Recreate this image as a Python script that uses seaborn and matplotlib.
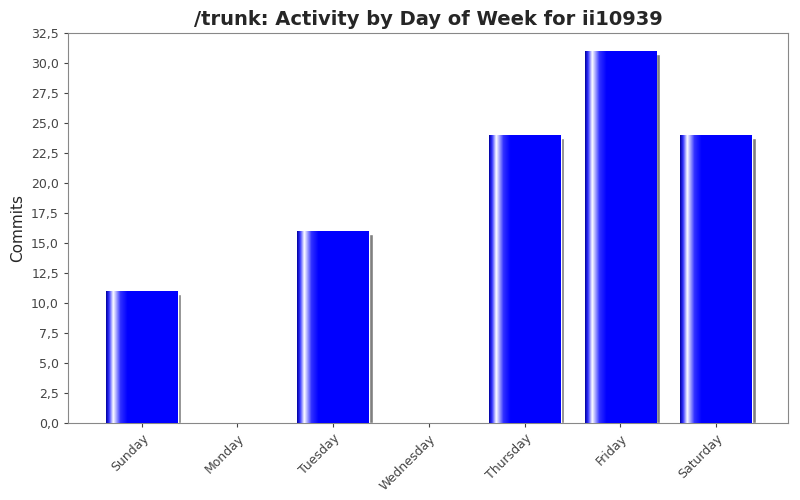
import numpy as np
import pandas as pd
import matplotlib
matplotlib.use("Agg")
import matplotlib.pyplot as plt
import seaborn as sns
from matplotlib.colors import LinearSegmentedColormap
from matplotlib.ticker import FuncFormatter, MultipleLocator

days = ["Sunday", "Monday", "Tuesday", "Wednesday", "Thursday", "Friday", "Saturday"]
commits = [11, 0, 16, 0, 24, 31, 24]

df = pd.DataFrame({"day": days, "commits": commits})

sns.set_style("white")
plt.rcParams['font.family'] = ['DejaVu Sans']

fig = plt.figure(figsize=(8, 5), dpi=100)
ax = fig.add_axes([0.085, 0.154, 0.9, 0.78])

# shadow bars, slightly offset
ax.bar(np.arange(len(days)) + 0.04, np.array(commits) - 0.25, width=0.75,
       color="#808080", zorder=1)
sns.barplot(data=df, x="day", y="commits", color="#0000ff", width=0.75,
            saturation=1, ax=ax, zorder=2)

# gradient highlight on each bar
cmap = LinearSegmentedColormap.from_list(
    "jf", [(0, "#0000a0"), (0.04, "#3030ff"), (0.1, "#ffffff"),
           (0.2, "#3030ff"), (0.3, "#0000ff"), (1, "#0000ff")])
grad = np.linspace(0, 1, 256).reshape(1, -1)
for p in ax.patches[len(days):]:
    if p.get_height() <= 0:
        continue
    x0, w, h = p.get_x(), p.get_width(), p.get_height()
    im = ax.imshow(grad, cmap=cmap, aspect="auto", extent=[x0, x0 + w, 0, h],
                   zorder=3)
    im.set_clip_path(p)

ax.set_xlim(-0.77, 6.75)
ax.set_ylim(0, 32.5)
ax.yaxis.set_major_locator(MultipleLocator(2.5))
ax.yaxis.set_major_formatter(FuncFormatter(lambda v, _: f"{v:.1f}".replace(".", ",")))
ax.tick_params(axis="both", labelsize=9, colors="#444444", length=3, left=True, bottom=True)
plt.setp(ax.get_xticklabels(), rotation=45, ha="right", rotation_mode="anchor")
for s in ax.spines.values():
    s.set_color("#888888")
ax.set_xlabel("")
ax.set_ylabel("Commits", fontsize=11)
ax.set_title("/trunk: Activity by Day of Week for ii10939", fontsize=14, fontweight="bold", pad=6)

fig.savefig("out.png", dpi=100)
